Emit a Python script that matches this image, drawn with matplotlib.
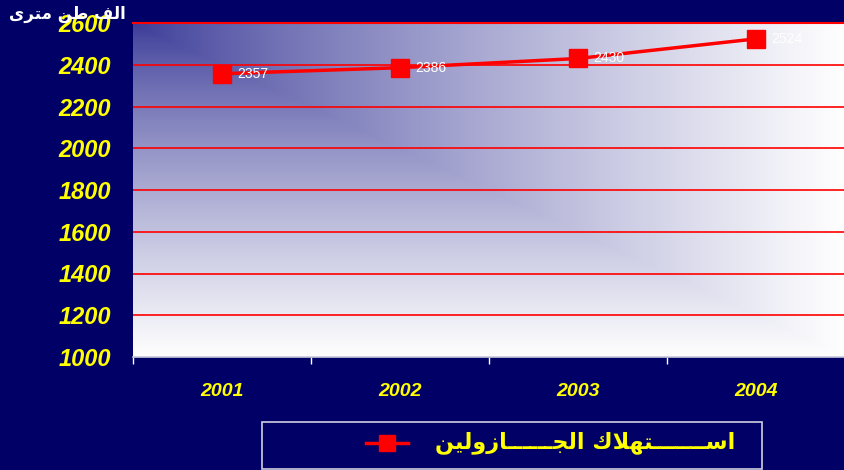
import numpy as np
import matplotlib
matplotlib.use('Agg')
import matplotlib.pyplot as plt
from matplotlib.patches import Rectangle
from matplotlib.lines import Line2D

# data
years = ['2001', '2002', '2003', '2004']
consumption = [2357, 2386, 2430, 2524]
y_ticks = [1000, 1200, 1400, 1600, 1800, 2000, 2200, 2400, 2600]

# arabic text, shaped by hand with presentation forms (visual order)
TAT = '\u0640'
unit_label = '\uFEEF\uFEAE\uFE98\uFEE3 \uFEE6\uFEC3 \uFED2\uFEDF\uFE8D'
series_label = ('\uFEE6\uFEF4\uFEDF\uFEED\uFEAF\uFE8E' + TAT * 6 + '\uFEA0\uFEDF\uFE8D'
                + ' ' + '\uFED9\uFEFC\uFEEC\uFE98' + TAT * 7 + '\uFEB3\uFE8D')

navy = '#000066'
yellow = '#ffff00'
red = '#ff0000'

fig = plt.figure(figsize=(8.45, 4.7), dpi=100, facecolor=navy)
ax = fig.add_axes([133 / 845, 1 - 357 / 470, 712 / 845, 334 / 470])
ax.set_facecolor('white')

# corner gradient: dark blue top-left fading to white
h, w = 200, 400
gx = np.linspace(0, 1, w)[None, :]
gy = np.linspace(0, 1, h)[:, None]
t = np.maximum(gx, gy) ** 0.8
c0 = np.array([58, 58, 152]) / 255.0
c1 = np.array([1.0, 1.0, 1.0])
img = c0[None, None, :] * (1 - t[..., None]) + c1[None, None, :] * t[..., None]
ax.imshow(img, extent=[0, 1, 0, 1], transform=ax.transAxes, aspect='auto',
          zorder=0, interpolation='bilinear')

x = np.arange(len(years))
ax.set_xlim(-0.5, len(years) - 0.5)
ax.set_ylim(1000, 2600)

for yv in y_ticks[1:]:
    ax.axhline(yv, color=red, lw=1.2, zorder=1)

line, = ax.plot(x, consumption, color=red, lw=2.5, marker='s', markersize=13,
                markerfacecolor=red, markeredgecolor=red, zorder=3)

for xi, v in zip(x, consumption):
    ax.annotate(str(v), (xi, v), xytext=(11, 0), textcoords='offset points',
                color='white', fontsize=10, va='center', ha='left',
                family='Liberation Sans', zorder=4, annotation_clip=False)

ax.set_yticks(y_ticks)
ax.set_yticklabels([str(v) for v in y_ticks], color=yellow, fontsize=17,
                   fontweight='bold', fontstyle='italic', family='Liberation Sans')
ax.tick_params(axis='y', length=0, pad=16)

ax.set_xticks(np.arange(-0.5, len(years)), minor=False)
ax.set_xticklabels([])
ax.set_xticks(x, minor=True)
ax.set_xticklabels(years, minor=True, color=yellow, fontsize=14,
                   fontweight='bold', fontstyle='italic', family='Liberation Sans')
ax.tick_params(axis='x', which='major', length=5, color='white', width=1)
ax.tick_params(axis='x', which='minor', length=0, pad=19)

for s in ['left', 'right']:
    ax.spines[s].set_visible(False)
ax.spines['top'].set_color(red)
ax.spines['top'].set_linewidth(1.5)
ax.spines['bottom'].set_color('#c8c8dc')
ax.spines['bottom'].set_linewidth(1.2)

# unit label top-left
fig.text(67 / 845, 1 - 14 / 470, unit_label, color='white', fontsize=12,
         fontweight='bold', ha='center', va='center', family=['DejaVu Sans'])

# legend box drawn by hand
fig.patches.append(Rectangle((262 / 845, 1 - 469 / 470), 500 / 845, 47 / 470,
                             transform=fig.transFigure, facecolor=navy,
                             edgecolor='#d0d0e0', lw=1.2))
fig.lines.append(Line2D([366 / 845, 408 / 845], [1 - 443 / 470] * 2,
                        transform=fig.transFigure, color=line.get_color(), lw=2.5))
fig.lines.append(Line2D([387 / 845], [1 - 443 / 470], transform=fig.transFigure,
                        color=red, marker='s', markersize=12, lw=0))
fig.text(735 / 845, 1 - 443 / 470, series_label, color=yellow, fontsize=16,
         fontweight='bold', ha='right', va='center', family=['DejaVu Sans'])

fig.savefig('out.png', dpi=100, facecolor=navy)
